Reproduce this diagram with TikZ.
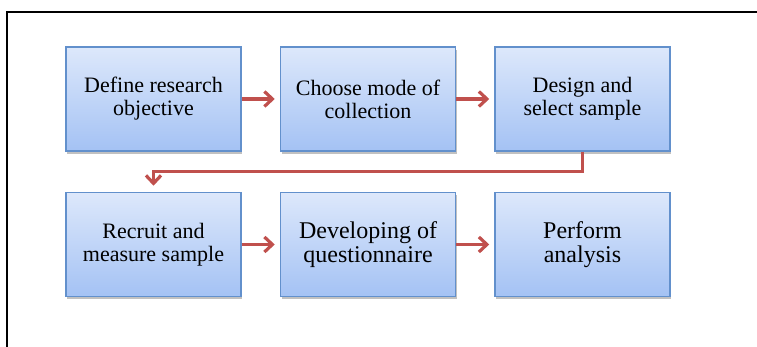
\documentclass[tikz,border=0pt]{standalone}
\usepackage{fontspec}
\setmainfont{Liberation Serif}
\usetikzlibrary{positioning,arrows.meta,shadows}
\definecolor{boxtop}{RGB}{221,232,251}
\definecolor{boxbot}{RGB}{164,194,244}
\definecolor{boxline}{RGB}{98,144,204}
\definecolor{flowred}{RGB}{192,80,77}
\begin{document}
\begin{tikzpicture}[x=0.5pt,y=-0.5pt,
    stepbox/.style={draw=boxline,line width=0.75pt,top color=boxtop,bottom color=boxbot,
      minimum width=87.5pt,minimum height=52pt,align=center,
      font=\fontsize{11}{11.5}\selectfont,
      drop shadow={shadow xshift=0.6pt,shadow yshift=-1.4pt,opacity=0.35,fill=black!70}},
    bigtext/.style={font=\fontsize{12}{12}\selectfont},
    flow/.style={draw=flowred,line width=1.6pt,-{Straight Barb[length=4pt,width=7.5pt,line width=1.6pt]}}]
  \useasboundingbox (0,0) rectangle (757,347);
  \draw[line width=0.6pt] (7,347) -- (7,12) -- (757,12);
  \node[stepbox] (define) at (153.5,99) {Define research\\objective};
  \node[stepbox,right=19pt of define] (choose) {Choose mode of\\collection};
  \node[stepbox,right=19pt of choose] (design) {Design and\\select sample};
  \node[stepbox,below=20pt of define] (recruit) {Recruit and\\measure sample};
  \node[stepbox,bigtext,right=19pt of recruit] (develop) {Developing of\\questionnaire};
  \node[stepbox,bigtext,right=19pt of develop] (perform) {Perform\\analysis};
  \draw[flow,shorten >=2.5pt] (define) -- (choose);
  \draw[flow,shorten >=2.5pt] (choose) -- (design);
  \draw[flow,shorten >=3pt] (design.south) -- ++(0,-10pt) -| (recruit.north);
  \draw[flow,shorten >=2.5pt] (recruit) -- (develop);
  \draw[flow,shorten >=2.5pt] (develop) -- (perform);
\end{tikzpicture}
\end{document}
